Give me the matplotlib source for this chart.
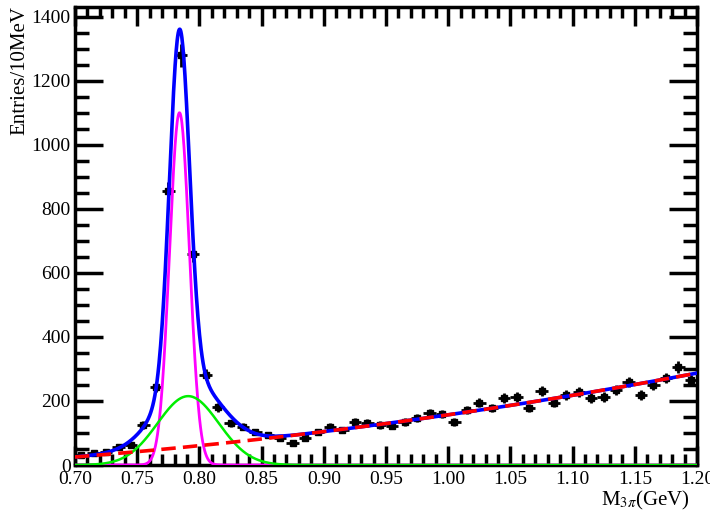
import matplotlib
matplotlib.use('Agg')
import matplotlib.pyplot as plt
import numpy as np
from matplotlib.ticker import MultipleLocator

plt.rcParams['font.family'] = ['Liberation Serif', 'DejaVu Serif']
plt.rcParams['mathtext.fontset'] = 'stix'

# M(3pi) spectrum, 10 MeV bins
bin_centers = np.round(np.arange(0.705, 1.20, 0.01), 3)
entries = [32, 37, 40, 55, 62, 125, 245, 855, 1280, 660,
           282, 180, 130, 119, 103, 94, 84, 69, 84, 103,
           119, 109, 134, 131, 125, 122, 134, 147, 162, 160,
           134, 172, 194, 178, 209, 212, 178, 230, 194, 219,
           228, 209, 212, 234, 259, 219, 250, 272, 306, 266]

# fit components
omega_amp, omega_mass, omega_sigma = 1100.0, 0.7840, 0.0080
broad_amp, broad_mean, broad_sigma = 215.0, 0.7910, 0.0246
bkg_coef = [25.0, 311.5, 425.0]   # p0 + p1*(m-0.7) + p2*(m-0.7)^2

m = np.linspace(0.70, 1.20, 1200)
omega = omega_amp * np.exp(-0.5 * ((m - omega_mass) / omega_sigma) ** 2)
broad = broad_amp * np.exp(-0.5 * ((m - broad_mean) / broad_sigma) ** 2)
bkg = bkg_coef[0] + bkg_coef[1] * (m - 0.7) + bkg_coef[2] * (m - 0.7) ** 2
total = omega + broad + bkg

fig = plt.figure(figsize=(7.10, 5.12), dpi=100)
ax = fig.add_axes([75 / 710, 1 - 465 / 512, 622 / 710, 458 / 512])

ax.errorbar(bin_centers, entries, yerr=np.sqrt(entries), xerr=0.005,
            fmt='s', color='black', markersize=4.5, elinewidth=2.0,
            capsize=0, zorder=2)

ax.plot(m, omega, color='#ff00ff', lw=2.0, zorder=3)
ax.plot(m, broad, color='#00ee00', lw=1.8, zorder=4)
ax.plot(m, total, color='#0000ff', lw=2.6, zorder=5)
ax.plot(m, bkg, color='#ff0000', lw=2.6, ls=(0, (4, 2)), zorder=6)

ax.set_xlim(0.70, 1.20)
ax.set_ylim(0, 1430)
ax.xaxis.set_major_locator(MultipleLocator(0.05))
ax.xaxis.set_minor_locator(MultipleLocator(0.01))
ax.yaxis.set_major_locator(MultipleLocator(200))
ax.yaxis.set_minor_locator(MultipleLocator(50))
ax.xaxis.set_major_formatter(matplotlib.ticker.FormatStrFormatter('%.2f'))

for s in ax.spines.values():
    s.set_linewidth(2.5)
ax.tick_params(axis='both', which='both', direction='in',
               top=True, right=True, labelsize=14, colors='black')
ax.tick_params(axis='x', which='major', length=14, width=2.5, pad=4)
ax.tick_params(axis='x', which='minor', length=8, width=2.5)
ax.tick_params(axis='y', which='major', length=20, width=2.5, pad=3)
ax.tick_params(axis='y', which='minor', length=10, width=2.5)

fig.text(20 / 710, 1 - 6 / 512, 'Entries/10MeV', rotation=90,
         ha='center', va='top', fontsize=15)
fig.text(690 / 710, 1 - 500 / 512, r'M$_{3\pi}$(GeV)',
         ha='right', va='center', fontsize=15)

fig.savefig('out.png', dpi=100)
